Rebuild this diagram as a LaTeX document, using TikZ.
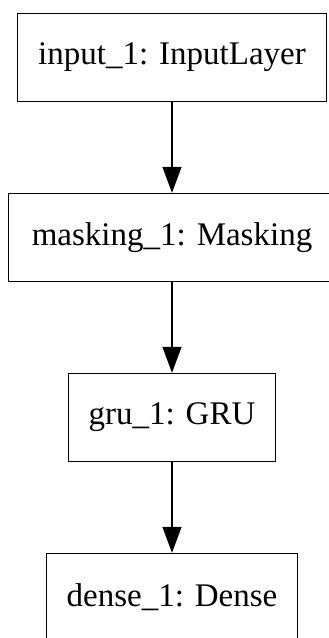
\documentclass[tikz,border=0pt]{standalone}
\usepackage{fontspec}
\setmainfont{Liberation Serif}
\usetikzlibrary{arrows.meta}
\begin{document}
\begin{tikzpicture}[x=1pt,y=-1pt,
  layer/.style={draw, line width=1.4pt, minimum height=88pt, inner sep=0pt, font=\fontsize{33}{36}\selectfont},
  flow/.style={line width=1.4pt, -{Triangle[length=26pt,width=19pt]}}]
\useasboundingbox (0,0) rectangle (329,638);
\node[layer, minimum width=309pt] (input) at (172,57.5) {input\_1: InputLayer};
\node[layer, minimum width=327pt] (masking) at (172,237.5) {masking\_1: Masking};
\node[layer, minimum width=207pt] (gru) at (172,417.5) {gru\_1: GRU};
\node[layer, minimum width=251pt] (dense) at (172,597.5) {dense\_1: Dense};

\path[draw,flow] (input) -- (masking);
\path[draw,flow] (masking) -- (gru);
\path[draw,flow] (gru) -- (dense);
\end{tikzpicture}
\end{document}
